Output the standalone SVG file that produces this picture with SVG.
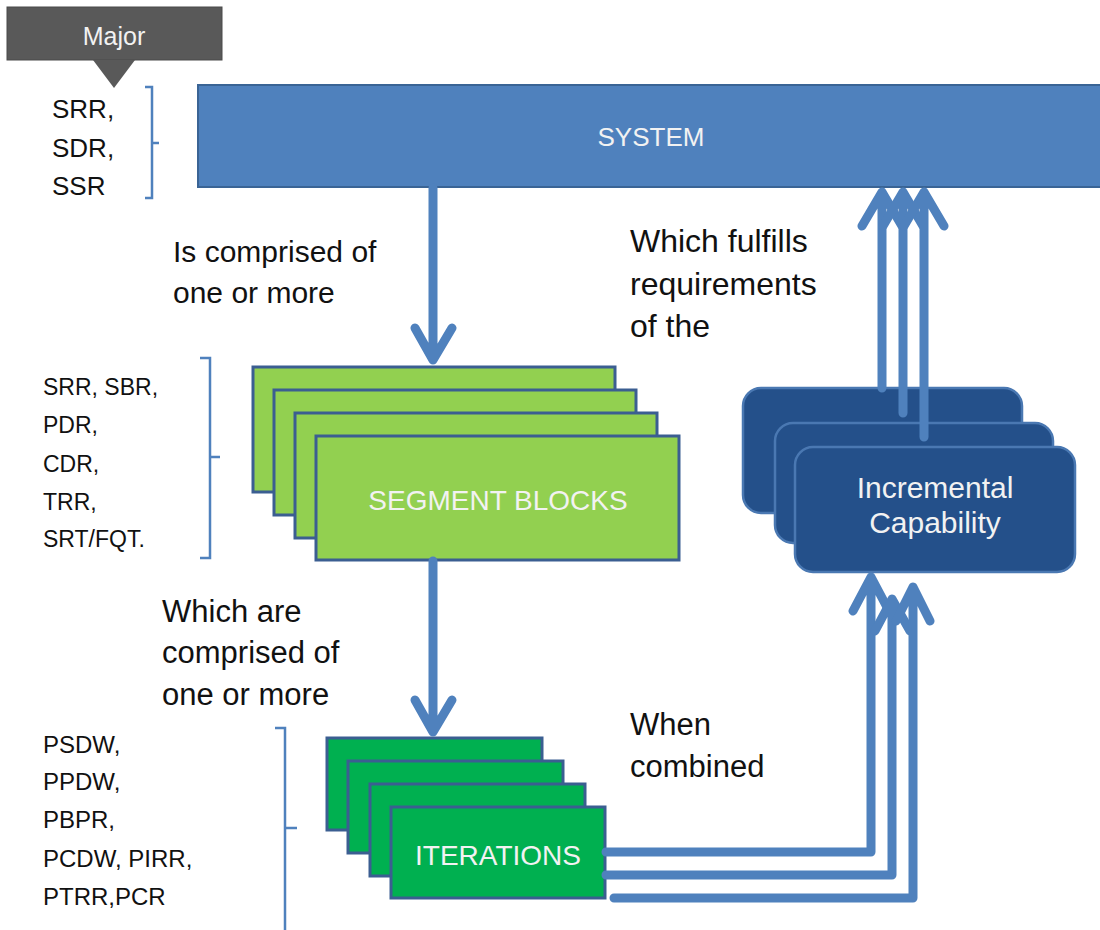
<svg xmlns="http://www.w3.org/2000/svg" width="1100" height="930" viewBox="0 0 1100 930">
<style>
.lbl{font-family:"Liberation Sans",Arial,sans-serif;fill:#111;}
.wt{font-family:"Liberation Sans",Arial,sans-serif;fill:#F2F2F2;text-anchor:middle;}
.seg{fill:#92D050;stroke:#3B5E91;stroke-width:3;}
.itr{fill:#00B050;stroke:#3B5E91;stroke-width:3;}
.inc{fill:#24508A;stroke:#4A78B2;stroke-width:2.5;}
.con{fill:none;stroke:#4F81BD;stroke-width:9;stroke-linejoin:round;stroke-linecap:round;}
.brk{fill:none;stroke:#4F81BD;stroke-width:2.5;}
</style>
<rect width="1100" height="930" fill="#FFFFFF"/>

<g id="major">
  <rect x="7" y="7" width="215" height="53" fill="#595959" stroke="#4A4A4A" stroke-width="1"/>
  <polygon points="93,60 135,60 114,88" fill="#595959"/>
  <text class="wt" x="114" y="45" font-size="25" fill="#DDDDDD">Major</text>
</g>

<g id="system">
  <rect x="198" y="85" width="905" height="102" fill="#4F81BD" stroke="#3A6495" stroke-width="2"/>
  <text class="wt" x="651" y="146" font-size="26">SYSTEM</text>
</g>

<g id="labels-system">
  <path class="brk" d="M145,87 H152 V198 H145 M152,143 H159"/>
  <text class="lbl" x="52" y="118" font-size="26">SRR,</text>
  <text class="lbl" x="52" y="157" font-size="26">SDR,</text>
  <text class="lbl" x="52" y="195" font-size="26">SSR</text>
</g>

<g id="labels-segment">
  <path class="brk" d="M200,358 H210 V558 H200 M210,457 H220"/>
  <text class="lbl" x="43" y="395" font-size="23">SRR, SBR,</text>
  <text class="lbl" x="43" y="433" font-size="23">PDR,</text>
  <text class="lbl" x="43" y="472" font-size="23">CDR,</text>
  <text class="lbl" x="43" y="510" font-size="23">TRR,</text>
  <text class="lbl" x="43" y="547" font-size="23">SRT/FQT.</text>
</g>

<g id="labels-iterations">
  <path class="brk" d="M275,728 H285 V935 M285,828 H297"/>
  <text class="lbl" x="43" y="753" font-size="24">PSDW,</text>
  <text class="lbl" x="43" y="790" font-size="24">PPDW,</text>
  <text class="lbl" x="43" y="828" font-size="24">PBPR,</text>
  <text class="lbl" x="43" y="867" font-size="24">PCDW, PIRR,</text>
  <text class="lbl" x="43" y="905" font-size="24">PTRR,PCR</text>
</g>

<g id="segment-blocks">
  <rect class="seg" x="253" y="367" width="362" height="125"/>
  <rect class="seg" x="274" y="390" width="362" height="125"/>
  <rect class="seg" x="295" y="413" width="362" height="125"/>
  <rect class="seg" x="316" y="436" width="363" height="124"/>
  <text class="wt" x="498" y="510" font-size="28">SEGMENT BLOCKS</text>
</g>

<g id="iterations">
  <rect class="itr" x="327" y="738" width="215" height="92"/>
  <rect class="itr" x="348" y="761" width="215" height="92"/>
  <rect class="itr" x="370" y="784" width="215" height="92"/>
  <rect class="itr" x="391" y="807" width="214" height="91"/>
  <text class="wt" x="498" y="865" font-size="28">ITERATIONS</text>
</g>

<g id="incremental-capability">
  <rect class="inc" x="743" y="388" width="279" height="125" rx="18"/>
  <rect class="inc" x="775" y="423" width="278" height="120" rx="18"/>
  <rect class="inc" x="795" y="447" width="280" height="125" rx="18"/>
  <text class="wt" x="935" y="498" font-size="30" fill="#E8E8E8">Incremental</text>
  <text class="wt" x="935" y="533" font-size="30" fill="#E8E8E8">Capability</text>
</g>

<g id="connectors">
  <path class="con" d="M433,188 V360 M415,328 L433,360 L452,328"/>
  <path class="con" d="M433,561 V732 M415,700 L433,732 L452,700"/>
  <path class="con" d="M882,388 V194 M862,226 L882,192 L902,226"/>
  <path class="con" d="M903,413 V194 M883,226 L903,192 L923,226"/>
  <path class="con" d="M924,437 V194 M904,226 L924,192 L944,226"/>
  <path class="con" d="M606,852 H871 V580 M853,611 L871,577 L889,611"/>
  <path class="con" d="M606,875 H892 V602 M875,631 L892,599 L910,631"/>
  <path class="con" d="M614,898 H913 V590 M896,621 L913,587 L930,621"/>
</g>

<g id="annotations">
  <text class="lbl" x="173" y="262" font-size="30">Is comprised of</text>
  <text class="lbl" x="173" y="303" font-size="30">one or more</text>
  <text class="lbl" x="630" y="252" font-size="32">Which fulfills</text>
  <text class="lbl" x="630" y="295" font-size="32">requirements</text>
  <text class="lbl" x="630" y="337" font-size="32">of the</text>
  <text class="lbl" x="162" y="622" font-size="31">Which are</text>
  <text class="lbl" x="162" y="663" font-size="31">comprised of</text>
  <text class="lbl" x="162" y="705" font-size="31">one or more</text>
  <text class="lbl" x="630" y="735" font-size="31">When</text>
  <text class="lbl" x="630" y="777" font-size="31">combined</text>
</g>
</svg>
